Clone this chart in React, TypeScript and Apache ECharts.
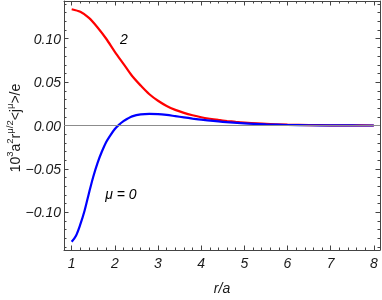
import React, { useEffect, useRef } from "react";
import * as echarts from "echarts";

// mu = 2 (red)
const rMu2 = [1.0, 1.2, 1.4, 1.6, 1.8, 2.0, 2.2, 2.4, 2.6, 2.8, 3.0, 3.2, 3.4, 3.6, 3.8, 4.0, 4.2, 4.4, 4.6, 4.8, 5.0, 5.5, 6.0, 6.5, 7.0, 7.5, 8.0];
const jMu2 = [0.134, 0.131, 0.124, 0.113, 0.1, 0.085, 0.071, 0.057, 0.046, 0.036, 0.0285, 0.0225, 0.018, 0.0146, 0.0118, 0.0095, 0.0078, 0.0064, 0.0052, 0.0042, 0.0034, 0.0019, 0.001, 0.0005, 0.0002, 0.0001, 0.0];

// mu = 0 (blue)
const rMu0 = [1.0, 1.1, 1.2, 1.3, 1.4, 1.5, 1.6, 1.7, 1.8, 1.9, 2.0, 2.1, 2.2, 2.3, 2.4, 2.6, 2.8, 3.0, 3.2, 3.4, 3.6, 3.8, 4.0, 4.5, 5.0, 5.5, 6.0, 6.5, 7.0, 7.5, 8.0];
const jMu0 = [-0.134, -0.127, -0.114, -0.098, -0.078, -0.059, -0.043, -0.03, -0.019, -0.011, -0.004, 0.001, 0.005, 0.008, 0.0105, 0.0128, 0.0135, 0.0132, 0.0122, 0.0108, 0.0094, 0.008, 0.0067, 0.0042, 0.0024, 0.0013, 0.0006, 0.0003, 0.0001, 0.00003, 0.0];

const xTicks = [1, 2, 3, 4, 5, 6, 7, 8];
const yTicks = [-0.1, -0.05, 0, 0.05, 0.1];

// curve annotations: [r, value, text]
const annotations: [number, number, string][] = [
  [2.21, 0.0994, "2"],
  [2.14, -0.0785, "μ = 0"],
];

const X_MIN = 0.822;
const X_MAX = 8.143;
const Y_MIN = -0.1435;
const Y_MAX = 0.1435;

const xMinor: number[] = [];
for (let i = 1; i <= 40; i++) {
  const v = Math.round((0.8 + i * 0.2) * 100) / 100;
  if (v > X_MAX) break;
  if (Math.abs(v - Math.round(v)) > 1e-6) xMinor.push(v);
}
const yMinor: number[] = [];
for (let i = -14; i <= 14; i++) {
  if (i % 5 !== 0) yMinor.push(i / 100);
}

const FONT = "'Liberation Sans', Arial, sans-serif";
const frameColor = "#444";
const labelColor = "#1a1a1a";

function makeAxis(
  kind: "x" | "y",
  position: string,
  ticks: number[],
  len: number,
  showLine: boolean,
  labels: boolean
): any {
  const isX = kind === "x";
  return {
    type: "value",
    position,
    min: isX ? X_MIN : Y_MIN,
    max: isX ? X_MAX : Y_MAX,
    axisLine: { show: showLine, onZero: false, lineStyle: { color: frameColor, width: 1 } },
    axisTick: { show: true, inside: true, length: len, customValues: ticks, lineStyle: { color: frameColor, width: 1 } },
    axisLabel: labels
      ? {
          show: true,
          customValues: ticks,
          fontFamily: FONT,
          fontStyle: "italic",
          fontSize: 14,
          color: labelColor,
          margin: isX ? 6 : 3,
          formatter: (v: number) =>
            isX ? String(v) : (v < 0 ? "\u2212" : "") + Math.abs(v).toFixed(2),
        }
      : { show: false },
    splitLine: { show: false },
  };
}

export default function App() {
  const ref = useRef<HTMLDivElement>(null);
  useEffect(() => {
    const chart = echarts.init(ref.current!, null, { renderer: "svg" });
    const option: any = {
      animation: false,
      grid: { left: 64, right: 2, top: 1, bottom: 44, containLabel: false },
      xAxis: [
        {
          ...makeAxis("x", "bottom", xTicks, 4.5, true, true),
          name: "r/a",
          nameLocation: "middle",
          nameGap: 31,
          nameTextStyle: { fontFamily: FONT, fontStyle: "italic", fontSize: 14, color: labelColor },
        },
        makeAxis("x", "bottom", xMinor, 2.5, false, false),
        makeAxis("x", "top", xTicks, 4.5, true, false),
        makeAxis("x", "top", xMinor, 2.5, false, false),
      ],
      yAxis: [
        makeAxis("y", "left", yTicks, 4.5, true, true),
        makeAxis("y", "left", yMinor, 2.5, false, false),
        makeAxis("y", "right", yTicks, 4.5, true, false),
        makeAxis("y", "right", yMinor, 2.5, false, false),
      ],
      graphic: [
        {
          type: "text",
          x: 13,
          y: 128,
          rotation: Math.PI / 2,
          style: {
            text: "{b|10}{s|3}{b|a}{s|2}{b|r}{s|μ/2}{b|<j}{s|μ}{b|>/e}",
            align: "center",
            verticalAlign: "middle",
            fill: labelColor,
            rich: {
              b: { fontFamily: FONT, fontSize: 14, lineHeight: 18, fill: labelColor, verticalAlign: "bottom" },
              s: { fontFamily: FONT, fontSize: 9.5, lineHeight: 18, fill: labelColor, verticalAlign: "top" },
            },
          },
        },
      ],
      series: [
        {
          type: "line",
          data: [],
          z: 1,
          silent: true,
          markLine: {
            silent: true,
            symbol: "none",
            label: { show: false },
            lineStyle: { color: "#8c8c8c", width: 1, type: "solid" },
            data: [{ yAxis: 0 }],
          },
        },
        {
          type: "line",
          data: rMu2.map((r, i) => [r, jMu2[i]]),
          showSymbol: false,
          smooth: 0.3,
          lineStyle: { color: "#ff0000", width: 2.2 },
          itemStyle: { color: "#ff0000" },
          z: 3,
        },
        {
          type: "line",
          data: rMu0.map((r, i) => [r, jMu0[i]]),
          showSymbol: false,
          smooth: 0.3,
          lineStyle: { color: "#0000ff", width: 2.2 },
          itemStyle: { color: "#0000ff" },
          z: 4,
        },
        {
          type: "scatter",
          symbolSize: 1,
          itemStyle: { color: "rgba(0,0,0,0)", opacity: 1 },
          silent: true,
          data: annotations.map((a) => ({ value: [a[0], a[1]], name: a[2] })),
          label: {
            show: true,
            position: "inside",
            formatter: (p: any) => p.name,
            fontFamily: FONT,
            fontStyle: "italic",
            fontSize: 14,
            color: "#000",
            opacity: 1,
          },
          z: 5,
        },
      ],
    };
    chart.setOption(option);
    return () => chart.dispose();
  }, []);
  return (
    <div
      ref={ref}
      style={{ position: "fixed", left: 0, top: 0, width: 382, height: 300 }}
    />
  );
}
